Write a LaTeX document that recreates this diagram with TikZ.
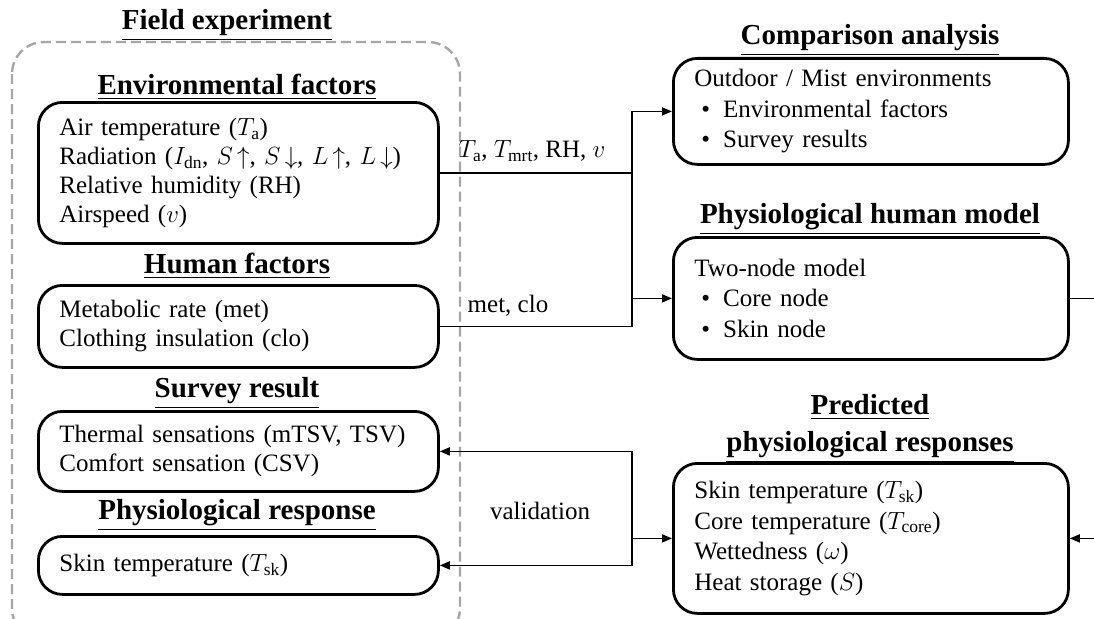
\documentclass[tikz,border=0pt]{standalone}
\usepackage{fontspec}
\setmainfont{Liberation Serif}
\usepackage{amsmath}
\usetikzlibrary{arrows.meta}

\newcommand{\itembul}{\hspace*{7pt}\textbullet\hspace{13pt}}

\begin{document}
\begin{tikzpicture}[x=1pt,y=-1pt,
  box/.style={draw, line width=2.8pt, rounded corners=24pt, align=left, anchor=north west,
    inner xsep=21pt},
  leftbox/.style={box, minimum width=400pt, text width=358pt, font=\fontsize{25}{29}\selectfont},
  rightbox/.style={box, minimum width=395pt, text width=353pt, font=\fontsize{25}{30.5}\selectfont},
  title/.style={font=\bfseries\fontsize{29}{37}\selectfont, align=center},
  link/.style={line width=1.6pt},
  arr/.style={link, -{Triangle[length=10pt,width=8pt]}},
  lbl/.style={font=\fontsize{25}{29}\selectfont}]
\useasboundingbox (0,0) rectangle (1094,618);

% field experiment frame
\draw[black!35, line width=2.4pt, dash pattern=on 10pt off 5pt, rounded corners=32pt] (12,42) rectangle (460,640);
\node[title] (fieldT) at (227,25) {\underline{Field experiment}};

% left boxes
\node[title] (envT) at (237,87) {\underline{Environmental factors}};
\node[leftbox, minimum height=141pt] (env) at (37,101) {Air temperature ($T_{\text{a}}$)\\
  Radiation ($I_{\text{dn}}$, $S\,{\uparrow}$, $S\,{\downarrow}$, $L\,{\uparrow}$, $L\,{\downarrow}$)\\
  Relative humidity (RH)\\
  Airspeed ($v$)};
\node[title] (humT) at (237,266) {\underline{Human factors}};
\node[leftbox, minimum height=82pt] (human) at (37,284) {Metabolic rate (met)\\
  Clothing insulation (clo)};
\node[title] (surT) at (237,393) {\underline{Survey result}};
\node[leftbox, minimum height=80pt] (survey) at (37,410) {Thermal sensations (mTSV, TSV)\\
  Comfort sensation (CSV)};
\node[title] (resT) at (237,515) {\underline{Physiological response}};
\node[leftbox, minimum height=58pt] (physresp) at (37,535) {Skin temperature ($T_{\text{sk}}$)};

% right boxes
\node[title] (cmpT) at (870,40) {\underline{Comparison analysis}};
\node[rightbox, minimum height=106pt] (compare) at (672,57) {Outdoor / Mist environments\\
  \itembul Environmental factors\\
  \itembul Survey results};
\node[title] (modT) at (870,219) {\underline{Physiological human model}};
\node[rightbox, minimum height=122pt] (model) at (672,236) {Two-node model\\
  \itembul Core node\\
  \itembul Skin node};
\node[title] (preT) at (870,429) {\underline{Predicted}\\ \underline{physiological responses}};
\node[rightbox, minimum height=150pt] (predict) at (672,462) {Skin temperature ($T_{\text{sk}}$)\\
  Core temperature ($T_{\text{core}}$)\\
  Wettedness ($\omega$)\\
  Heat storage ($S$)};

% connectors
\coordinate (jx) at (632,0);
\coordinate (edge) at (1094,0);
\draw[arr] (env.east) -| (jx |- compare.west) -- (compare.west);
\draw[link] (jx |- env.east) -- (jx |- human.east) -- (human.east);
\draw[arr] (jx |- model.west) -- (model.west);
\node[lbl] (envL) at (532,151) {$T_{\text{a}}$, $T_{\text{mrt}}$, RH, $v$};
\node[lbl] (humL) at (508,306) {met, clo};

\draw[arr] (jx |- predict.west) -- (predict.west);
\draw[arr] (jx |- predict.west) |- (survey.east);
\draw[arr] (jx |- predict.west) |- (physresp.east);
\node[lbl] (valL) at (540,511) {validation};

\draw[link] (model.east) -- (model.east -| edge);
\draw[arr] (predict.east -| edge) -- (predict.east);
\end{tikzpicture}
\end{document}
